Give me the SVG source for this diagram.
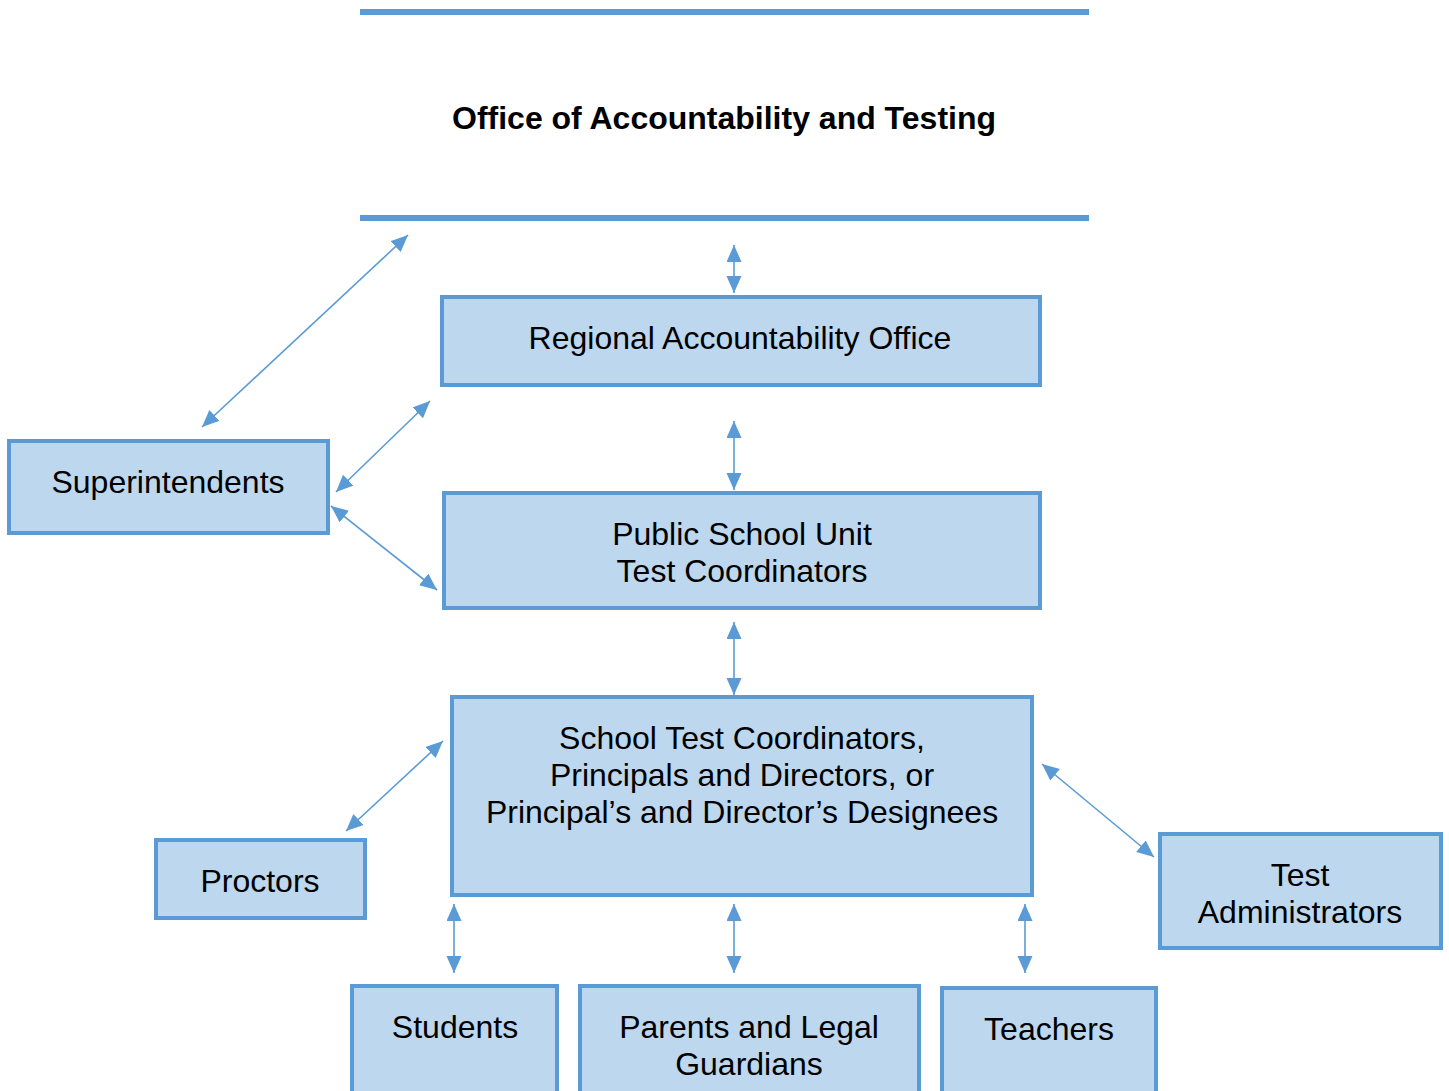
<svg xmlns="http://www.w3.org/2000/svg" width="1449" height="1091" viewBox="0 0 1449 1091">
<style>
.box{fill:#BDD7EE;stroke:#5B9BD5;stroke-width:4}
.t{font-family:"Liberation Sans",Arial,sans-serif;font-size:32px;fill:#000;text-anchor:middle}
.title{font-family:"Liberation Sans",Arial,sans-serif;font-size:32px;font-weight:bold;fill:#000;text-anchor:middle}
.rule{stroke:#5B9BD5;stroke-width:6}
.c{stroke:#5B9BD5;stroke-width:1.6;fill:none;marker-start:url(#ah);marker-end:url(#ah)}
</style>
<defs>
<marker id="ah" markerUnits="userSpaceOnUse" markerWidth="20" markerHeight="18" refX="17" refY="7.5" orient="auto-start-reverse" viewBox="0 0 20 18">
<path d="M0,0 L17,7.5 L0,15 Z" fill="#5B9BD5"/>
</marker>
</defs>
<rect width="1449" height="1091" fill="#fff"/>
<g id="header">
<line class="rule" x1="360" y1="12" x2="1089" y2="12"/>
<line class="rule" x1="360" y1="218" x2="1089" y2="218"/>
<text class="title" x="724" y="129">Office of Accountability and Testing</text>
</g>
<g id="regional"><rect class="box" x="442" y="297" width="598" height="88"/><text class="t" x="740" y="349">Regional Accountability Office</text></g>
<g id="superintendents"><rect class="box" x="9" y="441" width="319" height="92"/><text class="t" x="168" y="493">Superintendents</text></g>
<g id="psu"><rect class="box" x="444" y="493" width="596" height="115"/><text class="t" x="742" y="545">Public School Unit</text><text class="t" x="742" y="582">Test Coordinators</text></g>
<g id="school"><rect class="box" x="452" y="697" width="580" height="198"/><text class="t" x="742" y="749">School Test Coordinators,</text><text class="t" x="742" y="786">Principals and Directors, or</text><text class="t" x="742" y="823">Principal’s and Director’s Designees</text></g>
<g id="proctors"><rect class="box" x="156" y="840" width="209" height="78"/><text class="t" x="260" y="892">Proctors</text></g>
<g id="testadmins"><rect class="box" x="1160" y="834" width="281" height="114"/><text class="t" x="1300" y="886">Test</text><text class="t" x="1300" y="923">Administrators</text></g>
<g id="students"><rect class="box" x="352" y="986" width="205" height="130"/><text class="t" x="455" y="1038">Students</text></g>
<g id="parents"><rect class="box" x="580" y="986" width="339" height="130"/><text class="t" x="749" y="1038">Parents and Legal</text><text class="t" x="749" y="1075">Guardians</text></g>
<g id="teachers"><rect class="box" x="942" y="988" width="214" height="130"/><text class="t" x="1049" y="1040">Teachers</text></g>
<g id="connectors">
<line class="c" x1="202" y1="427" x2="408" y2="235"/>
<line class="c" x1="734" y1="245" x2="734" y2="293"/>
<line class="c" x1="336" y1="492" x2="430" y2="401"/>
<line class="c" x1="734" y1="421" x2="734" y2="490"/>
<line class="c" x1="331" y1="506" x2="437" y2="590"/>
<line class="c" x1="734" y1="622" x2="734" y2="695"/>
<line class="c" x1="346" y1="831" x2="443" y2="741"/>
<line class="c" x1="1042" y1="764" x2="1154" y2="857"/>
<line class="c" x1="454" y1="904" x2="454" y2="973"/>
<line class="c" x1="734" y1="904" x2="734" y2="973"/>
<line class="c" x1="1025" y1="904" x2="1025" y2="973"/>
</g>
</svg>
